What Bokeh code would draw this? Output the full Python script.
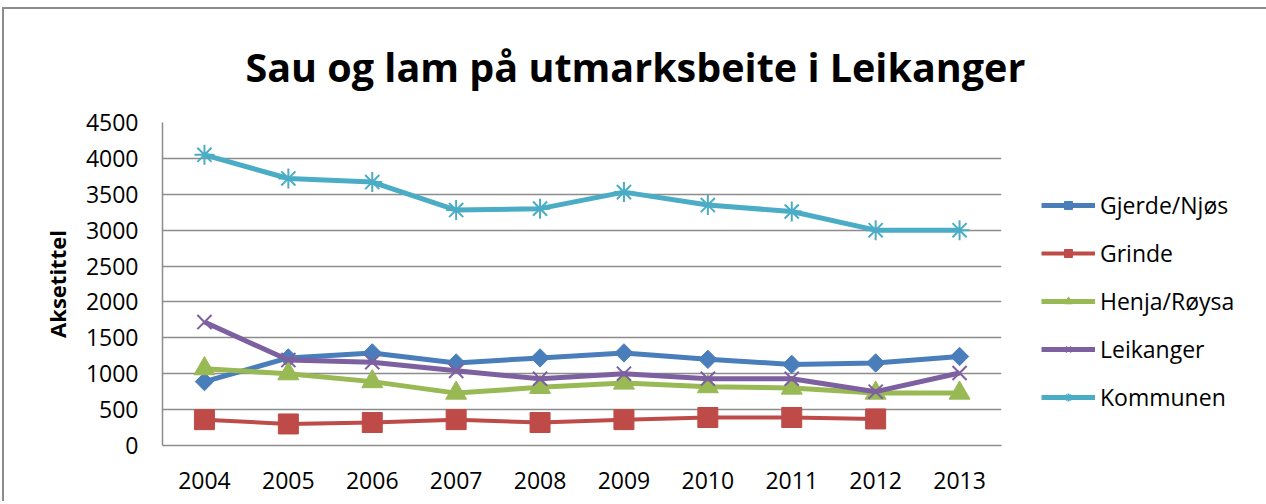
from bokeh.plotting import figure
from bokeh.models import Legend, LegendItem, FixedTicker, FactorRange, Range1d, ColumnDataSource
from bokeh.embed import file_html
from bokeh.resources import INLINE
import math

years = ["2004", "2005", "2006", "2007", "2008", "2009", "2010", "2011", "2012", "2013"]
gjerde_njos = [890, 1220, 1290, 1150, 1220, 1290, 1200, 1130, 1150, 1240]
grinde = [360, 300, 320, 360, 320, 360, 390, 390, 370, float("nan")]
henja_roysa = [1070, 1000, 890, 730, 810, 870, 820, 800, 730, 730]
leikanger = [1720, 1190, 1160, 1040, 930, 1000, 930, 930, 750, 1010]
kommunen = [4050, 3720, 3670, 3280, 3300, 3530, 3350, 3260, 3000, 3000]
series_names = ["Gjerde/Njøs", "Grinde", "Henja/Røysa", "Leikanger", "Kommunen"]
y_ticks = [0, 500, 1000, 1500, 2000, 2500, 3000, 3500, 4000, 4500]

FONT = "Open Sans"

p = figure(frame_width=839, frame_height=323, x_range=FactorRange(*years), y_range=Range1d(0, 4500),
           output_backend="svg", toolbar_location=None,
           min_border_left=158, min_border_top=112, min_border_bottom=56, min_border_right=259)
p.outline_line_color = None
p.styles = {"border-top": "2px solid #8c8c8c", "border-left": "2px solid #8c8c8c",
            "border-right": "2px solid #8c8c8c", "margin-top": "7px", "margin-left": "2px"}

p.title.text = "Sau og lam på utmarksbeite i Leikanger"
p.title.text_font = FONT
p.title.text_font_size = "39.5px"
p.title.text_font_style = "bold"
p.title.text_color = "#000000"
p.title.align = "left"
p.title.offset = 83
p.title.standoff = 57

src = ColumnDataSource(dict(x=years, g=gjerde_njos, gr=grinde, h=henja_roysa, l=leikanger, k=kommunen))

c1 = "#4A7EBB"
r1 = p.line("x", "g", source=src, line_color=c1, line_width=5)
m1 = p.scatter("x", "g", source=src, marker="square", size=13, angle=math.pi / 4,
               fill_color=c1, line_color=c1)
c2 = "#BE4B48"
r2 = p.line("x", "gr", source=src, line_color=c2, line_width=4)
m2 = p.scatter("x", "gr", source=src, marker="square", size=20, fill_color=c2, line_color=c2)
c3 = "#98B954"
r3 = p.line("x", "h", source=src, line_color=c3, line_width=5)
m3 = p.scatter("x", "h", source=src, marker="triangle", size=21, fill_color=c3, line_color=c3)
c4 = "#7D60A0"
r4 = p.line("x", "l", source=src, line_color=c4, line_width=5)
m4 = p.scatter("x", "l", source=src, marker="x", size=20, line_color=c4, line_width=2)
c5 = "#4BACC6"
r5 = p.line("x", "k", source=src, line_color=c5, line_width=5)
m5 = p.scatter("x", "k", source=src, marker="asterisk", size=20, line_color=c5, line_width=2)

legend = Legend(items=[
    LegendItem(label=series_names[0], renderers=[r1, m1]),
    LegendItem(label=series_names[1], renderers=[r2, m2]),
    LegendItem(label=series_names[2], renderers=[r3, m3]),
    LegendItem(label=series_names[3], renderers=[r4, m4]),
    LegendItem(label=series_names[4], renderers=[r5, m5]),
], location=(40, 32), orientation="vertical")
legend.border_line_color = None
legend.background_fill_alpha = 0
legend.label_text_font = FONT
legend.label_text_font_size = "23px"
legend.label_text_color = "#000000"
legend.glyph_width = 54
legend.glyph_height = 20
legend.label_height = 20
legend.label_standoff = 5
legend.spacing = 16
legend.padding = 0
legend.margin = 0
p.add_layout(legend, "right")

p.yaxis.ticker = FixedTicker(ticks=y_ticks)
p.xgrid.grid_line_color = None
p.ygrid.grid_line_color = "#8c8c8c"
p.ygrid.grid_line_width = 1.5
for ax in (p.xaxis, p.yaxis):
    ax.axis_line_color = "#8c8c8c"
    ax.axis_line_width = 1.5
    ax.major_tick_line_color = None
    ax.minor_tick_line_color = None
    ax.major_label_text_font = FONT
    ax.major_label_text_font_size = "23px"
    ax.major_label_text_color = "#000000"
p.yaxis.major_label_standoff = 18
p.xaxis.major_label_standoff = 20
p.yaxis.axis_label = "Aksetittel"
p.yaxis.axis_label_text_font = FONT
p.yaxis.axis_label_text_font_size = "22px"
p.yaxis.axis_label_text_font_style = "bold"
p.yaxis.axis_label_text_color = "#000000"
p.yaxis.axis_label_standoff = 11

open("out.html", "w").write(file_html(p, INLINE))
